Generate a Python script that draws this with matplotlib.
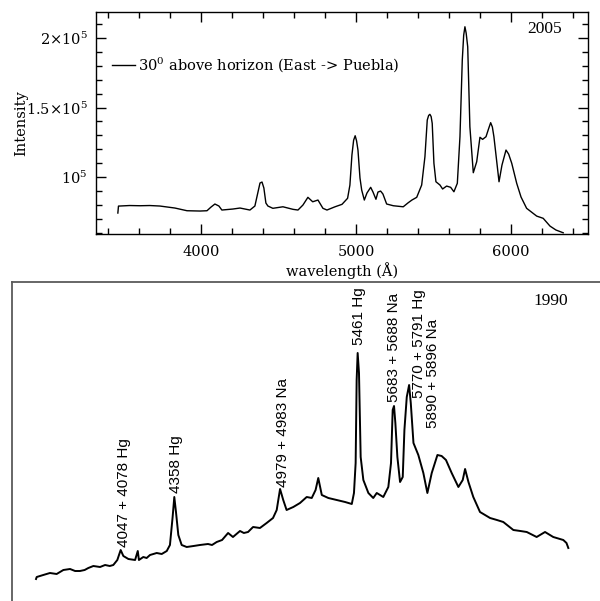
import matplotlib
matplotlib.use("Agg")
import matplotlib.pyplot as plt
from matplotlib.ticker import MultipleLocator, FuncFormatter

plt.rcParams['font.family'] = 'DejaVu Serif'
plt.rcParams['mathtext.fontset'] = 'dejavuserif'

# 2005 spectrum, 30 deg above horizon (wavelength in A, intensity in counts)
wl_2005 = [3464, 3468, 3540, 3607, 3670, 3735, 3832, 3910, 3994, 4039, 4065, 4090,
           4116, 4135, 4206, 4252, 4284, 4316, 4348, 4368, 4381, 4394, 4406, 4419,
           4432, 4464, 4529, 4594, 4626, 4658, 4690, 4721, 4755, 4787, 4813, 4865,
           4910, 4946, 4961, 4974, 4985, 4995, 5004, 5013, 5026, 5037, 5054, 5071,
           5095, 5110, 5129, 5142, 5159, 5174, 5198, 5241, 5305, 5337, 5361, 5392,
           5424, 5445, 5460, 5469, 5477, 5485, 5492, 5503, 5516, 5542, 5559, 5585,
           5611, 5632, 5654, 5671, 5686, 5695, 5703, 5711, 5721, 5735, 5757, 5779,
           5800, 5817, 5839, 5855, 5869, 5880, 5890, 5923, 5942, 5968, 5985, 6005,
           6037, 6065, 6101, 6166, 6208, 6252, 6290, 6337]
int_2005 = [74100, 79100, 79500, 79350, 79500, 79140, 77700, 75760, 75540, 75760, 78400, 80580,
            79140, 76260, 76980, 77700, 76980, 76260, 79140, 89200, 95700, 96400, 92100, 81300,
            79140, 77500, 78600, 76760, 76260, 79860, 85400, 82200, 83450, 77500, 76260, 78600,
            80360, 84700, 94200, 115800, 126500, 129700, 126000, 119400, 99300, 90650, 83450, 88500,
            92600, 89200, 84000, 89200, 89900, 87800, 80600, 79350, 78600, 81500, 83450, 85400,
            94250, 114600, 141000, 144300, 145100, 143500, 138600, 109900, 96600, 94250, 91400, 93500,
            92600, 89400, 95500, 129000, 184200, 202000, 208100, 203500, 193700, 136200, 103100, 111000,
            128600, 127100, 129000, 134500, 139100, 136000, 129000, 96600, 108600, 119400, 116500, 109900,
            95500, 85600, 77500, 71900, 70300, 64700, 61900, 59900]

# 1990 spectrum (relative units)
wl_1990 = [3540, 3544, 3583, 3623, 3663, 3703, 3743, 3773, 3802, 3830, 3852, 3882,
           3922, 3952, 3980, 4001, 4025, 4045, 4061, 4091, 4131, 4147, 4154, 4180,
           4200, 4220, 4240, 4260, 4290, 4320, 4339, 4355, 4365, 4375, 4389, 4409,
           4439, 4480, 4518, 4566, 4590, 4618, 4650, 4686, 4715, 4757, 4780, 4805,
           4835, 4876, 4916, 4954, 4976, 4996, 5015, 5035, 5075, 5115, 5155, 5185,
           5208, 5224, 5245, 5284, 5334, 5384, 5424, 5437, 5447, 5453, 5459, 5467,
           5477, 5493, 5523, 5552, 5573, 5612, 5642, 5658, 5668, 5676, 5684, 5696,
           5712, 5728, 5738, 5752, 5766, 5776, 5792, 5821, 5851, 5875, 5901, 5935,
           5960, 5986, 6020, 6060, 6086, 6100, 6120, 6149, 6189, 6249, 6290, 6328,
           6388, 6430, 6468, 6527, 6577, 6626, 6686, 6705, 6716]
int_1990 = [22, 24, 26, 28, 27, 31, 32, 30, 30, 31, 33, 35,
            34, 36, 35, 36, 41, 51, 45, 42, 41, 50, 41, 44,
            43, 46, 47, 48, 47, 50, 56, 84, 104, 89, 66, 56,
            54, 55, 56, 57, 56, 59, 61, 68, 64, 70, 68, 69,
            74, 73, 78, 83, 91, 112, 101, 91, 94, 98, 104, 103,
            111, 123, 106, 103, 101, 99, 97, 108, 138, 221, 248, 228,
            144, 121, 108, 103, 108, 104, 114, 138, 191, 195, 178, 144,
            119, 124, 171, 204, 216, 198, 158, 146, 128, 108, 128, 146,
            145, 141, 128, 114, 121, 132, 119, 104, 89, 83, 81, 79,
            71, 70, 69, 64, 69, 64, 61, 58, 53]

# emission line identifications for the 1990 spectrum
line_names = ['4047 + 4078 Hg', '4358 Hg', '4979 + 4983 Na', '5461 Hg',
              '5683 + 5688 Na', '5770 + 5791 Hg', '5890 + 5896 Na']
line_wl = [4065, 4375, 5014, 5467, 5676, 5825, 5909]
line_base = [54, 108, 114, 256, 199, 203, 173]

fig = plt.figure(figsize=(6, 6.01), dpi=100)

# upper panel: 2005
ax1 = fig.add_axes([0.16, 0.6106, 0.82, 0.3694])
ax1.plot(wl_2005, int_2005, color='black', lw=1.0,
         label=r'30$^{0}$ above horizon (East -> Puebla)')
ax1.set_xlim(3323, 6497)
ax1.set_ylim(59000, 218700)
ax1.xaxis.set_major_locator(MultipleLocator(1000))
ax1.xaxis.set_minor_locator(MultipleLocator(200))
ax1.yaxis.set_major_locator(MultipleLocator(50000))
ax1.yaxis.set_minor_locator(MultipleLocator(10000))

def sci_label(v, pos):
    m = v / 1e5
    if abs(m - 1) < 1e-9:
        return r'$10^5$'
    return r'$%g{\times}10^5$' % m

ax1.yaxis.set_major_formatter(FuncFormatter(sci_label))
ax1.tick_params(which='both', direction='in', top=True, right=True, labelsize=10.5)
ax1.tick_params(which='major', length=7.5, width=1)
ax1.tick_params(which='minor', length=4, width=1)
ax1.tick_params(axis='x', pad=8)
ax1.tick_params(axis='y', pad=6)
for s in ax1.spines.values():
    s.set_linewidth(1)
ax1.set_xlabel('wavelength (Å)', fontsize=10.5, labelpad=2)
ax1.set_ylabel('Intensity', fontsize=10.5, labelpad=-2)
ax1.legend(loc='upper left', bbox_to_anchor=(0.0325, 0.806), frameon=False,
           handlelength=1.6, handletextpad=0.2, borderpad=0, borderaxespad=0,
           fontsize=10.5)
ax1.text(0.911, 0.923, '2005', transform=ax1.transAxes, ha='center', va='center',
         fontsize=12.5, family='Liberation Serif')

# lower panel: 1990
ax2 = fig.add_axes([0.02, 0.0, 1.0, 0.5308])
ax2.plot(wl_1990, int_1990, color='black', lw=1.4)
ax2.set_xlim(3396.6, 6976.6)
ax2.set_ylim(0, 319)
ax2.set_xticks([])
ax2.set_yticks([])
ax2.spines['right'].set_visible(False)
ax2.spines['bottom'].set_visible(False)
for side in ['top', 'left']:
    ax2.spines[side].set_color('#5a5a5a')
    ax2.spines[side].set_linewidth(1.3)
for name, x, y in zip(line_names, line_wl, line_base):
    ax2.text(x, y, name, rotation=90, ha='center', va='bottom',
             fontsize=11, family='Liberation Sans')
ax2.text(0.898, 0.941, '1990', transform=ax2.transAxes, ha='center', va='center',
         fontsize=12.5, family='Liberation Serif')

fig.savefig('out.png', dpi=100)
